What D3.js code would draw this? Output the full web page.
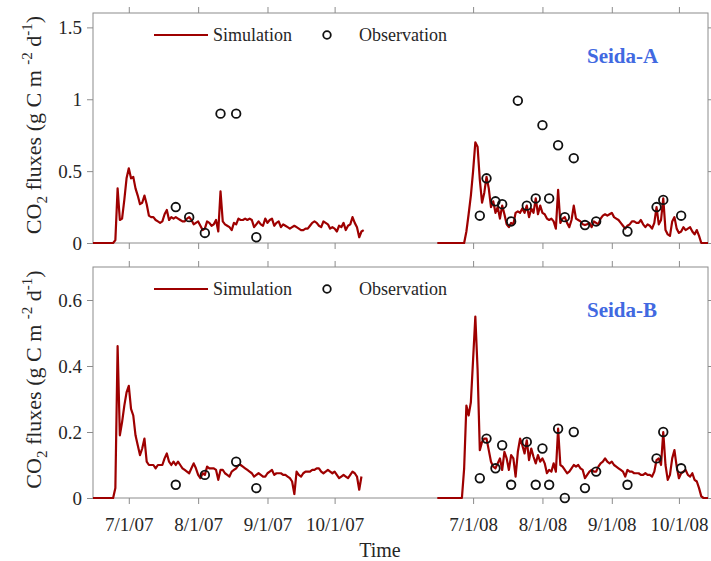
<!DOCTYPE html>
<html>
<head>
<meta charset="utf-8">
<script src="https://cdn.jsdelivr.net/npm/d3@7"></script>
<style>
  body { margin: 0; background: #fff; }
  text { font-family: "Liberation Serif", "Times New Roman", serif; }
</style>
</head>
<body>
<div id="chart"></div>
<script>
// daily simulated CO2 flux, first value on the season start date
var simStart07 = "2007-06-15",
    simStart08 = "2008-06-15";

var simA07 = [0,0,0,0,0,0,0,0,0,0,
  0.02,0.38,0.16,0.17,0.30,0.45,0.52,0.45,0.46,0.38,
  0.33,0.27,0.28,0.33,0.27,0.19,0.18,0.18,0.16,0.15,
  0.14,0.15,0.20,0.23,0.16,0.18,0.17,0.18,0.17,0.16,
  0.15,0.15,0.17,0.18,0.16,0.13,0.14,0.15,0.12,0.09,
  0.10,0.15,0.14,0.12,0.13,0.16,0.08,0.36,0.15,0.13,
  0.12,0.11,0.09,0.14,0.13,0.17,0.16,0.16,0.17,0.16,
  0.17,0.16,0.11,0.13,0.15,0.13,0.12,0.17,0.14,0.16,
  0.17,0.12,0.14,0.15,0.11,0.13,0.12,0.11,0.10,0.11,
  0.12,0.11,0.10,0.09,0.09,0.10,0.10,0.12,0.14,0.15,
  0.14,0.12,0.11,0.15,0.14,0.13,0.10,0.11,0.10,0.08,
  0.12,0.11,0.14,0.09,0.12,0.13,0.18,0.14,0.11,0.04,0.08,0.09];

var simA08 = [0,0,0,0,0,0,0,0,0,0,0,0,0,
  0.08,0.20,0.33,0.50,0.70,0.67,0.44,
  0.28,0.35,0.46,0.38,0.25,0.29,0.21,0.25,0.17,0.26,
  0.20,0.13,0.11,0.14,0.13,0.21,0.22,0.21,0.24,0.21,
  0.26,0.18,0.24,0.21,0.31,0.20,0.26,0.21,0.20,0.17,
  0.16,0.17,0.15,0.10,0.37,0.14,0.17,0.18,0.14,0.11,
  0.16,0.26,0.17,0.16,0.15,0.13,0.125,0.13,0.14,0.11,
  0.15,0.14,0.13,0.17,0.19,0.20,0.19,0.20,0.21,0.18,
  0.17,0.16,0.14,0.12,0.10,0.12,0.13,0.15,0.15,0.14,
  0.14,0.16,0.13,0.11,0.13,0.12,0.10,0.14,0.25,0.13,
  0.16,0.31,0.09,0.06,0.05,0.15,0.18,0.10,0.07,0.08,
  0.11,0.09,0.10,0.11,0.08,0.06,0.09,0.05,0,0,0,0];

var simB07 = [0,0,0,0,0,0,0,0,0,0,
  0.03,0.46,0.19,0.23,0.28,0.32,0.34,0.27,0.25,0.19,
  0.16,0.13,0.15,0.18,0.11,0.10,0.10,0.10,0.09,0.10,
  0.10,0.10,0.12,0.135,0.11,0.10,0.11,0.10,0.11,0.10,
  0.09,0.085,0.08,0.075,0.09,0.105,0.09,0.07,0.06,0.075,
  0.07,0.095,0.09,0.09,0.09,0.085,0.055,0.085,0.085,0.075,
  0.07,0.065,0.08,0.085,0.09,0.10,0.10,0.095,0.09,0.085,
  0.08,0.075,0.065,0.07,0.075,0.07,0.065,0.065,0.075,0.08,
  0.085,0.07,0.075,0.075,0.075,0.07,0.07,0.065,0.06,0.05,
  0.012,0.08,0.07,0.065,0.075,0.08,0.08,0.08,0.085,0.085,
  0.09,0.09,0.08,0.075,0.08,0.085,0.08,0.075,0.08,0.07,
  0.06,0.065,0.07,0.065,0.06,0.07,0.08,0.075,0.065,0.025,0.065];

var simB08 = [0,0,0,0,0,0,0,0,0,0,0,0,
  0.09,0.28,0.25,0.29,0.42,0.55,0.39,0.145,
  0.17,0.18,0.18,0.145,0.11,0.095,0.09,0.105,0.12,0.085,
  0.14,0.12,0.085,0.13,0.12,0.065,0.14,0.18,0.16,0.135,
  0.175,0.115,0.15,0.125,0.105,0.13,0.11,0.12,0.105,0.075,
  0.085,0.08,0.105,0.08,0.21,0.10,0.095,0.085,0.075,0.08,
  0.09,0.10,0.095,0.10,0.09,0.085,0.06,0.07,0.08,0.085,
  0.08,0.08,0.095,0.105,0.11,0.12,0.11,0.105,0.11,0.10,
  0.095,0.09,0.085,0.08,0.065,0.085,0.08,0.08,0.075,0.075,
  0.075,0.07,0.07,0.075,0.07,0.07,0.065,0.08,0.115,0.12,
  0.10,0.20,0.10,0.055,0.07,0.12,0.145,0.095,0.06,0.075,
  0.08,0.085,0.07,0.065,0.075,0.055,0.05,0.03,0.005,0,0,0];

// observations [date, flux]
var obsA07 = [["2007-07-22",0.25],["2007-07-28",0.18],["2007-08-04",0.07],
  ["2007-08-11",0.90],["2007-08-18",0.90],["2007-08-27",0.04]];
var obsA08 = [["2008-07-04",0.19],["2008-07-07",0.45],["2008-07-11",0.29],["2008-07-14",0.27],
  ["2008-07-18",0.15],["2008-07-21",0.99],["2008-07-25",0.26],["2008-07-29",0.31],
  ["2008-08-01",0.82],["2008-08-04",0.31],["2008-08-08",0.68],["2008-08-11",0.18],
  ["2008-08-15",0.59],["2008-08-20",0.125],["2008-08-25",0.15],["2008-09-08",0.08],
  ["2008-09-21",0.25],["2008-09-24",0.30],["2008-10-02",0.19]];
var obsB07 = [["2007-07-22",0.04],["2007-08-04",0.07],["2007-08-18",0.11],["2007-08-27",0.03]];
var obsB08 = [["2008-07-04",0.06],["2008-07-07",0.18],["2008-07-11",0.09],["2008-07-14",0.16],
  ["2008-07-18",0.04],["2008-07-25",0.17],["2008-07-29",0.04],["2008-08-01",0.15],
  ["2008-08-04",0.04],["2008-08-08",0.21],["2008-08-11",0.0],["2008-08-15",0.20],
  ["2008-08-20",0.03],["2008-08-25",0.08],["2008-09-08",0.04],["2008-09-21",0.12],
  ["2008-09-24",0.20],["2008-10-02",0.09]];

var xTickDates = ["2007-07-01","2007-08-01","2007-09-01","2007-10-01",
                  "2008-07-01","2008-08-01","2008-09-01","2008-10-01"];
var yTicksA = [0, 0.5, 1, 1.5],
    yTicksB = [0, 0.2, 0.4, 0.6];
var siteNames = ["Seida-A", "Seida-B"];

var parse = d3.timeParse("%Y-%m-%d");
var W = 711, H = 561;
var left = 93, right = 708;
var simColor = "#9e0000", frameColor = "#8c8c8c", textColor = "#262626";

var svg = d3.select("#chart").append("svg")
    .attr("width", W)
    .attr("height", H);

// broken time axis: the two seasons sit side by side, same days per pixel
var pxDay = (right - left - 49) / (132 + 121);
var x = d3.scaleTime()
    .domain([parse("2007-06-15"), parse("2007-10-25"), parse("2008-06-15"), parse("2008-10-14")])
    .range([left, left + 132 * pxDay, right - 121 * pxDay, right]);

function toSeries(start, vals) {
    var s = parse(start);
    return vals.map(function(v, i) { return {date: d3.timeDay.offset(s, i), v: v}; });
}

function panel(top, bottom, ymax, yTicks, sims, obs, site, showX) {
    var y = d3.scaleLinear().domain([0, ymax]).range([bottom, top]);
    var g = svg.append("g");

    var fmtY = function(d) { return d3.format("")(d); };
    var tv = xTickDates.map(parse);

    // ticks pointing outward on all four sides (box on)
    var ax = [
        d3.axisLeft(y).tickValues(yTicks).tickFormat(fmtY),
        d3.axisRight(y).tickValues(yTicks).tickFormat(""),
        d3.axisBottom(x).tickValues(tv).tickFormat(showX ? d3.timeFormat("%-m/%-d/%y") : ""),
        d3.axisTop(x).tickValues(tv).tickFormat("")
    ];
    var pos = ["translate(" + left + ",0)", "translate(" + right + ",0)",
               "translate(0," + bottom + ")", "translate(0," + top + ")"];
    ax.forEach(function(a, i) {
        var ga = g.append("g").attr("transform", pos[i])
            .call(a.tickSize(6).tickSizeOuter(0).tickPadding(5));
        ga.select(".domain").remove();
        ga.selectAll("line").attr("stroke", frameColor);
        ga.selectAll("text").attr("fill", textColor)
            .style("font-family", "Liberation Serif").style("font-size", "19px");
    });
    g.selectAll(".tick text").filter(function() { return this.textContent.indexOf("/") > 0; })
        .attr("dy", "1.15em");

    g.append("rect")
        .attr("x", left).attr("y", top)
        .attr("width", right - left).attr("height", bottom - top)
        .attr("fill", "none").attr("stroke", frameColor).attr("stroke-width", 1);

    var line = d3.line()
        .x(function(d) { return x(d.date); })
        .y(function(d) { return y(d.v); });

    sims.forEach(function(s) {
        g.append("path").datum(s)
            .attr("fill", "none")
            .attr("stroke", simColor)
            .attr("stroke-width", 2.2)
            .attr("stroke-linejoin", "round")
            .attr("d", line);
    });

    g.append("g").selectAll("circle")
        .data(obs)
        .enter().append("circle")
        .attr("cx", function(d) { return x(parse(d[0])); })
        .attr("cy", function(d) { return y(d[1]); })
        .attr("r", 4.3)
        .attr("fill", "none")
        .attr("stroke", "#111")
        .attr("stroke-width", 1.8);

    // legend
    var ly = top + 22;
    g.append("line").attr("x1", 154).attr("x2", 208).attr("y1", ly).attr("y2", ly)
        .attr("stroke", simColor).attr("stroke-width", 2.2);
    g.append("text").attr("x", 213).attr("y", ly + 6).text("Simulation")
        .attr("fill", textColor).style("font-size", "18px");
    g.append("circle").attr("cx", 327).attr("cy", ly).attr("r", 3.8)
        .attr("fill", "none").attr("stroke", "#111").attr("stroke-width", 1.8);
    g.append("text").attr("x", 359).attr("y", ly + 6).text("Observation")
        .attr("fill", textColor).style("font-size", "18px");

    g.append("text").attr("x", 587).attr("y", top + 50).text(site)
        .attr("fill", "#4169e1").style("font-size", "21px").style("font-weight", "bold");

    // rotated y label with sub/superscripts
    var yl = g.append("text")
        .attr("transform", "translate(41," + ((top + bottom) / 2 - 3) + ") rotate(-90)")
        .attr("text-anchor", "middle")
        .attr("fill", textColor)
        .style("font-size", "22px");
    yl.append("tspan").text("CO");
    yl.append("tspan").text("2").attr("dy", 6).style("font-size", "15px");
    yl.append("tspan").text(" fluxes (g C m ").attr("dy", -6);
    yl.append("tspan").text("-2").attr("dy", -9).style("font-size", "15px");
    yl.append("tspan").text(" d").attr("dy", 9);
    yl.append("tspan").text("-1").attr("dy", -9).style("font-size", "15px");
    yl.append("tspan").text(")").attr("dy", 9);
}

panel(13, 243, 1.6, yTicksA,
      [toSeries(simStart07, simA07), toSeries(simStart08, simA08)],
      obsA07.concat(obsA08), siteNames[0], false);
panel(267, 498, 0.7, yTicksB,
      [toSeries(simStart07, simB07), toSeries(simStart08, simB08)],
      obsB07.concat(obsB08), siteNames[1], true);

svg.append("text")
    .attr("x", 380).attr("y", 557)
    .attr("text-anchor", "middle")
    .attr("fill", textColor)
    .style("font-size", "20px")
    .text("Time");
</script>
</body>
</html>
